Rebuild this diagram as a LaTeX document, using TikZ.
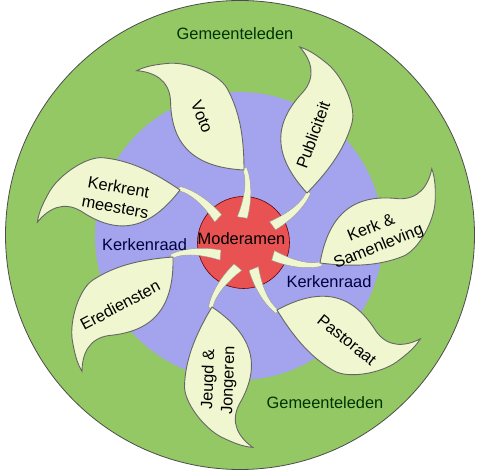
\documentclass[tikz,border=0pt]{standalone}
\usepackage{fontspec}
\setmainfont{Liberation Sans}
\usepackage{tikz}
\definecolor{gemeente}{RGB}{148,200,100}
\definecolor{raad}{RGB}{163,163,238}
\definecolor{moder}{RGB}{232,82,82}
\definecolor{blad}{RGB}{240,246,207}
\newcommand{\leaf}[2]{
	\begin{scope}[shift={(#1)},rotate=#2]
	\filldraw[stem] (-2,2) .. controls (4,-10) and (0,-30) .. (-6.7,-46.7)
		-- (3.3,-48.3) .. controls (8,-30) and (8,-12) .. (3,2) -- cycle;
	\filldraw[bladrand] (0,0) .. controls (0,35) and (-5,60) .. (-17,81.7)
		.. controls (-25,96) and (-55,108) .. (-75,106.7)
		.. controls (-88,105.5) and (-98,104) .. (-107.3,99.3)
		.. controls (-90,98) and (-75,90) .. (-73.5,70)
		.. controls (-73,35) and (-60,3) .. (0,0) -- cycle;
	\end{scope}
}

\begin{document}
\begin{tikzpicture}[x=1pt,y=1pt,
	lbl/.style={font=\fontsize{16.4}{20}\selectfont, align=center, inner sep=0pt},
	bladrand/.style={fill=blad, draw=black!60, line width=0.9pt},
	stem/.style={fill=blad, draw=black!40, line width=0.4pt}]
	\useasboundingbox (0,0) rectangle (480,471);
	\coordinate (G) at (240,236);
	\coordinate (R) at (239,235);
	\coordinate (Mo) at (243.5,228.5);

	\filldraw[fill=gemeente, draw=black!70, line width=0.8pt] (G) circle (234.5);
	\fill[raad] (R) circle (144);
	\filldraw[fill=moder, draw=black!60!red, line width=0.6pt] (Mo) circle (46);

	% bladeren: voet van het blad en draaiing
	\leaf{244,301}{0}
	\leaf{307,278}{-44.4}
	\leaf{320,208}{-97.1}
	\leaf{277,161}{-148.6}
	\leaf{212,164}{-211}
	\leaf{173,214}{-265.7}
	\leaf{180,281}{-304.5}

	\node[lbl, text=black!80!green] (gem1) at (235,437) {Gemeenteleden};
	\node[lbl, text=black!80!green] (gem2) at (325,68) {Gemeenteleden};
	\node[lbl, text=black!75!blue] (raad1) at (144.5,226) {Kerkenraad};
	\node[lbl, text=black!75!blue] (raad2) at (329,189) {Kerkenraad};
	\node[lbl] (mod) at (241.5,232) {Moderamen};

	\node[lbl, rotate=-68] (voto) at (202,354) {Voto};
	\node[lbl, rotate=70] (publ) at (313,336) {Publiciteit};
	\node[lbl, rotate=22] (kerk) at (375,233) {Kerk \&\\Samenleving};
	\node[lbl, rotate=-39] (past) at (347,131) {Pastoraat};
	\node[lbl, rotate=88] (jeugd) at (219,91) {Jeugd \&\\Jongeren};
	\node[lbl, rotate=28] (ered) at (120,166) {Erediensten};
	\node[lbl, rotate=-10] (kkm) at (117,274) {Kerkrent\\meesters};
\end{tikzpicture}
\end{document}
